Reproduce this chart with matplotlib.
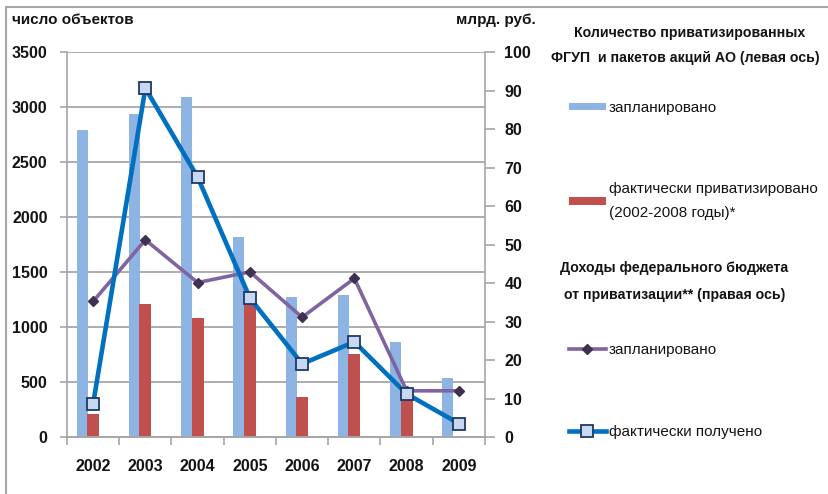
import numpy as np
import matplotlib
matplotlib.use('Agg')
import matplotlib.pyplot as plt
from matplotlib.patches import Rectangle

plt.rcParams['font.family'] = ['Liberation Sans Narrow', 'Liberation Sans', 'DejaVu Sans']

years = ['2002', '2003', '2004', '2005', '2006', '2007', '2008', '2009']
planned_objects = [2790, 2935, 3090, 1820, 1275, 1290, 865, 535]
actual_objects = [207, 1212, 1085, 1225, 365, 756, 354, 0]
planned_income = [35.2, 51.2, 40.1, 42.9, 31.1, 41.2, 12.0, 12.0]
actual_income = [8.6, 90.6, 67.5, 36.1, 19.0, 24.7, 11.2, 3.5]

c_bar_plan = '#8DB4E2'
c_bar_fact = '#C0504D'
c_line_plan = '#8064A2'
c_line_fact = '#0070C0'
grid_c = '#A6A6A6'
txt_c = '#141414'

fig = plt.figure(figsize=(8.29, 4.94), dpi=100)
ax = fig.add_axes([67 / 829, 57 / 494, 418 / 829, 385 / 494])
ax2 = ax.twinx()

x = np.arange(len(years))
b1 = ax.bar(x - 0.21, planned_objects, width=0.21, color=c_bar_plan, zorder=2)
b2 = ax.bar(x, actual_objects, width=0.23, color=c_bar_fact, zorder=2)

l1, = ax2.plot(x, planned_income, color=c_line_plan, lw=2.6, marker='D', ms=5,
               mfc='#3F3151', mec='#3F3151', zorder=3)
l2, = ax2.plot(x, actual_income, color=c_line_fact, lw=3.3, marker='s', ms=8,
               mfc='#C6D9F1', mec='#1F3864', mew=1.3, zorder=4)

ax.set_xlim(-0.5, len(years) - 0.5)
ax.set_ylim(0, 3500)
ax2.set_ylim(0, 100)
ax.set_yticks(np.arange(0, 3501, 500))
ax2.set_yticks(np.arange(0, 101, 10))
ax.yaxis.grid(True, color=grid_c, lw=1.3, zorder=0)
ax.set_axisbelow(True)

ax.set_xticks(np.arange(-0.5, len(years), 1.0))
ax.set_xticklabels([])
ax.set_xticks(x, minor=True)
ax.set_xticklabels(years, minor=True)
ax.tick_params(axis='x', which='major', length=6, color=grid_c, width=1.2)
ax.tick_params(axis='x', which='minor', length=0, pad=16)
ax.tick_params(axis='y', length=5, color=grid_c, width=1.2, pad=9)
ax2.tick_params(axis='y', length=7, color=grid_c, width=1.2, pad=7)

for a in (ax, ax2):
    for s in a.spines.values():
        s.set_color(grid_c)
        s.set_linewidth(1.2)
    a.spines['top'].set_visible(False)
    for lab in a.get_yticklabels() + a.get_xticklabels(minor=True):
        lab.set_fontsize(11.5)
        lab.set_fontweight('bold')
        lab.set_color(txt_c)
ax2.spines['left'].set_visible(False)
ax.spines['right'].set_visible(False)

fig.text(12 / 829, 1 - 20 / 494, 'число объектов', fontsize=11, fontweight='bold',
         color=txt_c, va='center', ha='left')
fig.text(456 / 829, 1 - 20 / 494, 'млрд. руб.', fontsize=11, fontweight='bold',
         color=txt_c, va='center', ha='left')

# legend block on the right
titles = [
    ('Количество приватизированных', 690, 33),
    ('ФГУП  и пакетов акций АО (левая ось)', 685, 58),
    ('Доходы федерального бюджета', 674, 268),
    ('от приватизации** (правая ось)', 675, 295),
]
for t, tx, ty in titles:
    fig.text(tx / 829, 1 - ty / 494, t, fontsize=10.2, fontweight='bold',
             color=txt_c, ha='center', va='center')

entries = [
    (b1, 'запланировано', 108),
    (b2, 'фактически приватизировано\n(2002-2008 годы)*', 201),
    (l1, 'запланировано', 350),
    (l2, 'фактически получено', 432),
]
for h, lab, yy in entries:
    leg = fig.legend([h], [lab], loc='center left', bbox_to_anchor=(569 / 829, 1 - yy / 494),
                     frameon=False, fontsize=11, handlelength=2.4, handleheight=0.35,
                     handletextpad=0.2, borderpad=0, borderaxespad=0)
    for t in leg.get_texts():
        t.set_color(txt_c)
        t.set_linespacing(1.9)

fig.add_artist(Rectangle((6 / 829, -0.1), 1.1, 1 - 7 / 494 + 0.1, transform=fig.transFigure,
                         fill=False, edgecolor='#A6A6A6', lw=1.5))

fig.savefig('out.png', dpi=100)
